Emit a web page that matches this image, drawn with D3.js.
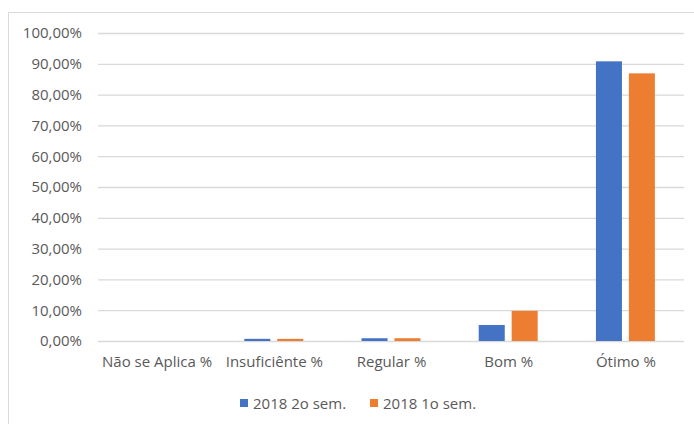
<html>
<head>
<meta charset="utf-8">
<script src="https://cdn.jsdelivr.net/npm/d3@7"></script>
<style>
body { margin:0; background:#fff; }
svg text { font-family: "Open Sans", sans-serif; fill:#595959; }
</style>
</head>
<body>
<svg width="694" height="424"></svg>
<script>
var categories = ["Não se Aplica %", "Insuficiênte %", "Regular %", "Bom %", "Ótimo %"];
var seriesNames = ["2018 2o sem.", "2018 1o sem."];
var sem2 = [0, 0.007, 0.009, 0.052, 0.908];
var sem1 = [0, 0.007, 0.009, 0.098, 0.869];
var yTicks = [0, 0.1, 0.2, 0.3, 0.4, 0.5, 0.6, 0.7, 0.8, 0.9, 1.0];
var colors = ["#4472C4", "#ED7D31"];
var fontSize = "15px";

var svg = d3.select("svg");

// chart frame
svg.append("rect")
	.attr("x", 8.5).attr("y", 12.5)
	.attr("width", 700).attr("height", 430)
	.attr("fill", "none")
	.attr("stroke", "#D9D9D9");

var x0 = d3.scaleBand()
	.domain(categories)
	.range([98, 684])
	.paddingInner(0.497)
	.paddingOuter(0.2485);
var x1 = d3.scaleBand()
	.domain(seriesNames)
	.range([0, x0.bandwidth()])
	.paddingInner(0.21);
var y = d3.scaleLinear()
	.domain([0, 1])
	.range([341, 33]);

var fmt = function(v) { return (v * 100).toFixed(2).replace(".", ",") + "%"; };

// grid + y labels
var yAxis = svg.append("g")
	.attr("transform", "translate(98,0)")
	.call(d3.axisLeft(y).tickValues(yTicks).tickSize(-586).tickFormat(fmt).tickPadding(16));
yAxis.select(".domain").remove();
yAxis.selectAll(".tick line").attr("stroke", "#D9D9D9").attr("stroke-width", 1.3);
yAxis.selectAll(".tick text").attr("font-size", fontSize);

var data = categories.map(function(c, i) { return {cat: c, vals: [sem2[i], sem1[i]]}; });

var groups = svg.selectAll(".grp")
	.data(data)
	.enter().append("g")
	.attr("transform", function(d) { return "translate(" + x0(d.cat) + ",0)"; });
groups.selectAll("rect")
	.data(function(d) { return d.vals.map(function(v, j) { return {s: seriesNames[j], v: v, j: j}; }); })
	.enter().append("rect")
	.attr("x", function(d) { return x1(d.s); })
	.attr("y", function(d) { return y(d.v); })
	.attr("width", x1.bandwidth())
	.attr("height", function(d) { return y(0) - y(d.v); })
	.attr("fill", function(d) { return colors[d.j]; });

// category labels
var xAxis = svg.append("g")
	.attr("transform", "translate(0,341)")
	.call(d3.axisBottom(d3.scalePoint().domain(categories).range([x0.step()/2 + 98, 684 - x0.step()/2])).tickSize(0).tickPadding(15));
xAxis.select(".domain").remove();
xAxis.selectAll(".tick text").attr("font-size", fontSize);

// legend
var legX = [240, 370];
var leg = svg.selectAll(".leg")
	.data(seriesNames)
	.enter().append("g")
	.attr("transform", function(d, i) { return "translate(" + legX[i] + ",399)"; });
leg.append("rect").attr("width", 8).attr("height", 8).attr("fill", function(d, i) { return colors[i]; });
leg.append("text").attr("x", 13).attr("y", 9.5).attr("font-size", fontSize).text(function(d) { return d; });
</script>
</body>
</html>
